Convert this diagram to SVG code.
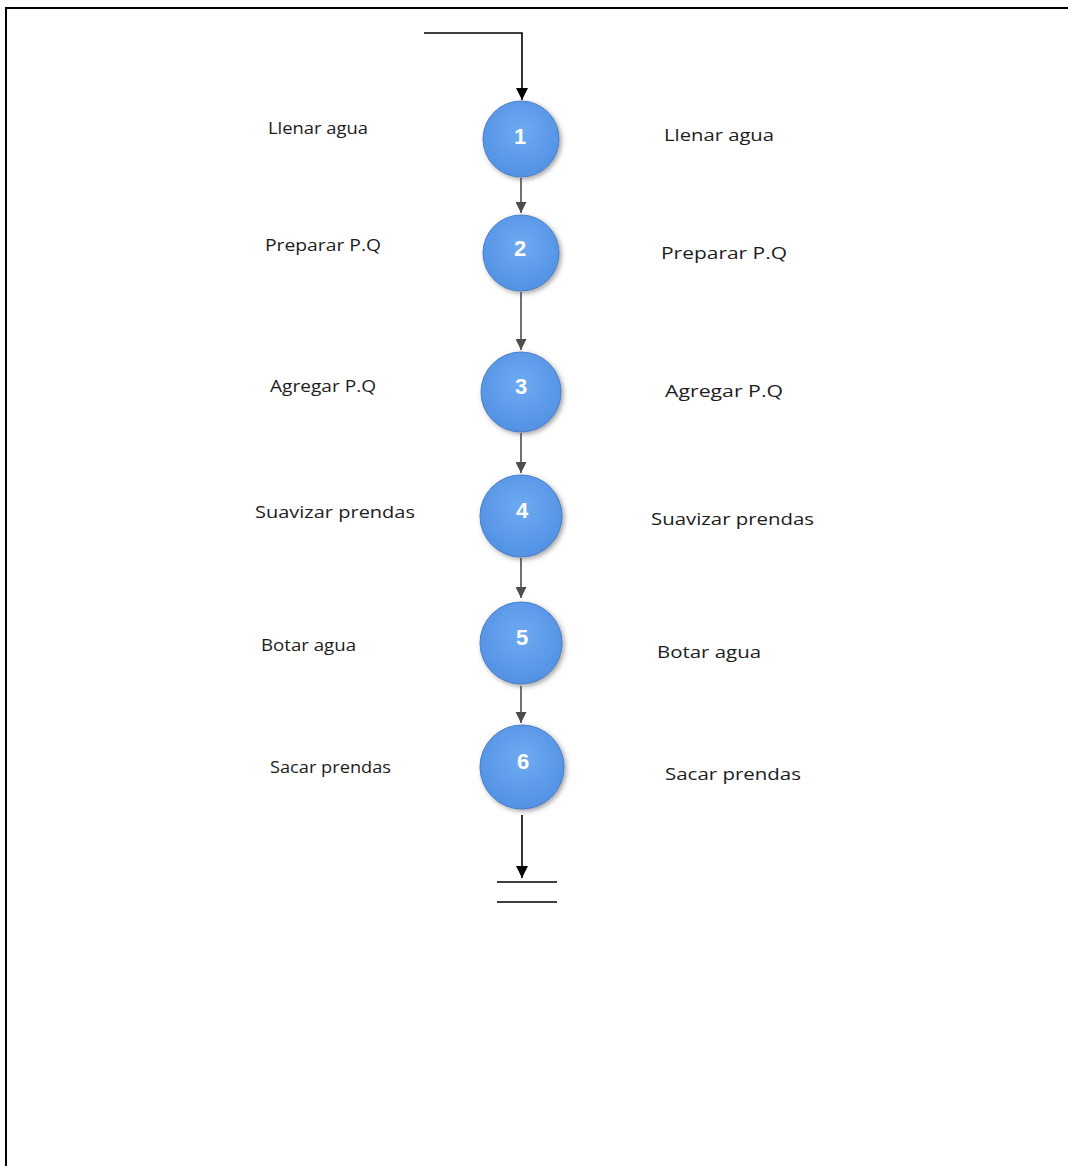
<svg xmlns="http://www.w3.org/2000/svg" width="1068" height="1166" viewBox="0 0 1068 1166">
  <style>
    .lbl { font-family: "Open Sans", "Liberation Sans", sans-serif; font-size: 17px; fill: #1c1c1c; }
    .num { font-family: "Liberation Sans", Arial, sans-serif; font-size: 22px; font-weight: bold; fill: #fff; text-anchor: middle; }
    .step { fill: url(#ballFill); stroke: #4a7fc8; stroke-width: 1; filter: url(#soft); }
    .link { stroke: #4d4d4d; stroke-width: 1.6; fill: none; marker-end: url(#grayHead); }
    .flow { stroke: #000; stroke-width: 1.6; fill: none; }
  </style>
  <defs>
    <radialGradient id="ballFill" cx="50%" cy="40%" r="60%">
      <stop offset="0" stop-color="#6eaaf2"/>
      <stop offset="1" stop-color="#5291e4"/>
    </radialGradient>
    <filter id="soft" x="-30%" y="-30%" width="160%" height="160%">
      <feDropShadow dx="2" dy="2" stdDeviation="2.5" flood-color="#555" flood-opacity="0.55"/>
    </filter>
    <marker id="grayHead" viewBox="0 0 10 10" refX="10" refY="5" markerWidth="11" markerHeight="11" markerUnits="userSpaceOnUse" orient="auto">
      <path d="M0,0 L10,5 L0,10 z" fill="#4d4d4d"/>
    </marker>
    <marker id="blackHead" viewBox="0 0 10 10" refX="10" refY="5" markerWidth="12" markerHeight="12" markerUnits="userSpaceOnUse" orient="auto">
      <path d="M0,0 L10,5 L0,10 z" fill="#000"/>
    </marker>
  </defs>

  <rect width="1068" height="1166" fill="#fff"/>

  <!-- page frame -->
  <path d="M6,1166 V8 H1068" fill="none" stroke="#000" stroke-width="2"/>

  <!-- connectors -->
  <g id="connectors">
    <path class="flow" d="M424,33 H522 V100" marker-end="url(#blackHead)"/>
    <path class="link" d="M521,178 V213"/>
    <path class="link" d="M521,292 V350"/>
    <path class="link" d="M521,433 V473"/>
    <path class="link" d="M521,558 V598"/>
    <path class="link" d="M521,686 V723"/>
    <path class="flow" d="M522,815 V878" marker-end="url(#blackHead)"/>
    <path d="M497,882 H557 M497,902 H557" stroke="#000" stroke-width="1.6"/>
  </g>

  <!-- steps -->
  <g id="step1">
    <circle class="step" cx="521" cy="139" r="38"/>
    <text class="num" x="520" y="144">1</text>
    <text class="lbl" x="268" y="134" textLength="100" lengthAdjust="spacingAndGlyphs">Llenar agua</text>
    <text class="lbl" x="664" y="141" textLength="110" lengthAdjust="spacingAndGlyphs">Llenar agua</text>
  </g>
  <g id="step2">
    <circle class="step" cx="521" cy="253" r="38"/>
    <text class="num" x="520" y="256">2</text>
    <text class="lbl" x="265" y="251" textLength="116" lengthAdjust="spacingAndGlyphs">Preparar P.Q</text>
    <text class="lbl" x="661" y="259" textLength="126" lengthAdjust="spacingAndGlyphs">Preparar P.Q</text>
  </g>
  <g id="step3">
    <circle class="step" cx="521" cy="392" r="40"/>
    <text class="num" x="521" y="394">3</text>
    <text class="lbl" x="270" y="392" textLength="106" lengthAdjust="spacingAndGlyphs">Agregar P.Q</text>
    <text class="lbl" x="665" y="397" textLength="118" lengthAdjust="spacingAndGlyphs">Agregar P.Q</text>
  </g>
  <g id="step4">
    <circle class="step" cx="521" cy="516" r="41"/>
    <text class="num" x="522" y="518">4</text>
    <text class="lbl" x="255" y="518" textLength="160" lengthAdjust="spacingAndGlyphs">Suavizar prendas</text>
    <text class="lbl" x="651" y="525" textLength="163" lengthAdjust="spacingAndGlyphs">Suavizar prendas</text>
  </g>
  <g id="step5">
    <circle class="step" cx="521" cy="643" r="41"/>
    <text class="num" x="522" y="645">5</text>
    <text class="lbl" x="261" y="651" textLength="95" lengthAdjust="spacingAndGlyphs">Botar agua</text>
    <text class="lbl" x="657" y="658" textLength="104" lengthAdjust="spacingAndGlyphs">Botar agua</text>
  </g>
  <g id="step6">
    <circle class="step" cx="522" cy="767" r="42"/>
    <text class="num" x="523" y="769">6</text>
    <text class="lbl" x="270" y="773" textLength="121" lengthAdjust="spacingAndGlyphs">Sacar prendas</text>
    <text class="lbl" x="665" y="780" textLength="136" lengthAdjust="spacingAndGlyphs">Sacar prendas</text>
  </g>
</svg>
